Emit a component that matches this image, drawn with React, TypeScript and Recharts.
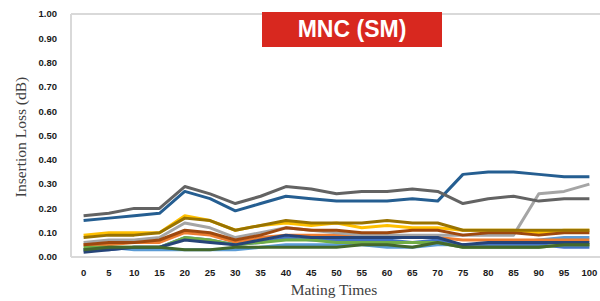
import React from "react";
import { LineChart, Line, XAxis, YAxis, ReferenceLine } from "recharts";

const matingTimes = [0, 5, 10, 15, 20, 25, 30, 35, 40, 45, 50, 55, 60, 65, 70, 75, 80, 85, 90, 95, 100];
const yTicks = [0, 0.1, 0.2, 0.3, 0.4, 0.5, 0.6, 0.7, 0.8, 0.9, 1.0];

const s1 = [0.03, 0.04, 0.03, 0.03, 0.03, 0.03, 0.03, 0.04, 0.05, 0.05, 0.05, 0.05, 0.04, 0.04, 0.05, 0.05, 0.05, 0.06, 0.07, 0.08, 0.08];
const s2 = [0.05, 0.05, 0.06, 0.06, 0.10, 0.09, 0.06, 0.08, 0.09, 0.09, 0.09, 0.09, 0.08, 0.08, 0.08, 0.07, 0.07, 0.07, 0.07, 0.07, 0.07];
const s3 = [0.06, 0.07, 0.07, 0.08, 0.14, 0.12, 0.08, 0.10, 0.12, 0.11, 0.10, 0.09, 0.09, 0.09, 0.09, 0.09, 0.09, 0.09, 0.26, 0.27, 0.30];
const s4 = [0.09, 0.10, 0.10, 0.10, 0.17, 0.15, 0.11, 0.13, 0.14, 0.13, 0.14, 0.12, 0.13, 0.12, 0.12, 0.11, 0.11, 0.11, 0.10, 0.11, 0.11];
const s5 = [0.03, 0.03, 0.04, 0.04, 0.08, 0.07, 0.05, 0.06, 0.08, 0.07, 0.07, 0.07, 0.07, 0.06, 0.07, 0.05, 0.05, 0.05, 0.05, 0.04, 0.04];
const s6 = [0.04, 0.04, 0.04, 0.04, 0.08, 0.07, 0.05, 0.06, 0.07, 0.07, 0.06, 0.06, 0.06, 0.06, 0.06, 0.04, 0.04, 0.04, 0.04, 0.05, 0.05];
const s7 = [0.15, 0.16, 0.17, 0.18, 0.27, 0.24, 0.19, 0.22, 0.25, 0.24, 0.23, 0.23, 0.23, 0.24, 0.23, 0.34, 0.35, 0.35, 0.34, 0.33, 0.33];
const s8 = [0.05, 0.06, 0.06, 0.07, 0.11, 0.10, 0.07, 0.09, 0.12, 0.11, 0.11, 0.10, 0.10, 0.11, 0.11, 0.09, 0.10, 0.10, 0.09, 0.10, 0.10];
const s9 = [0.17, 0.18, 0.20, 0.20, 0.29, 0.26, 0.22, 0.25, 0.29, 0.28, 0.26, 0.27, 0.27, 0.28, 0.27, 0.22, 0.24, 0.25, 0.23, 0.24, 0.24];
const s10 = [0.08, 0.09, 0.09, 0.10, 0.16, 0.15, 0.11, 0.13, 0.15, 0.14, 0.14, 0.14, 0.15, 0.14, 0.14, 0.11, 0.11, 0.11, 0.11, 0.11, 0.11];
const s11 = [0.02, 0.03, 0.04, 0.04, 0.07, 0.06, 0.05, 0.07, 0.09, 0.08, 0.08, 0.08, 0.08, 0.08, 0.08, 0.05, 0.06, 0.06, 0.06, 0.06, 0.06];
const s12 = [0.03, 0.04, 0.04, 0.04, 0.03, 0.03, 0.04, 0.04, 0.04, 0.04, 0.04, 0.05, 0.05, 0.04, 0.06, 0.04, 0.04, 0.04, 0.04, 0.05, 0.05];

const seriesList = [s1, s2, s3, s4, s5, s6, s7, s8, s9, s10, s11, s12];
const seriesColors = [
  "#5b9bd5", "#ed7d31", "#a5a5a5", "#ffc000", "#4472c4", "#70ad47",
  "#255e91", "#9e480e", "#636363", "#997300", "#264478", "#43682b",
];

const data = matingTimes.map((t, i) => {
  const row: Record<string, number | string> = { t: String(t) };
  seriesList.forEach((s, k) => {
    row["s" + (k + 1)] = s[i];
  });
  return row;
});

const tickStyle = { fontFamily: "'Liberation Sans', Arial, sans-serif", fontWeight: 700, fontSize: 9.5, fill: "#1a1a1a" };

export default function App() {
  return (
    <div style={{ position: "fixed", left: 0, top: 0, width: 600, height: 301, overflow: "hidden", background: "#fff" }}>
      <LineChart width={610} height={301} data={data} margin={{ top: 14, right: 8, left: 0, bottom: 0 }}>
        <XAxis
          dataKey="t"
          height={44}
          padding={{ left: 12.6, right: 12.6 }}
          tickLine={false}
          axisLine={{ stroke: "#d9d9d9", strokeWidth: 2 }}
          tick={tickStyle}
          tickMargin={6}
          interval={0}
        />
        <YAxis
          width={71}
          domain={[0, 1]}
          ticks={yTicks}
          tickFormatter={(v: number) => v.toFixed(2)}
          tickLine={false}
          axisLine={{ stroke: "#d9d9d9", strokeWidth: 2 }}
          tick={tickStyle}
          tickMargin={8}
          interval={0}
        />
        <ReferenceLine y={1} stroke="#d9d9d9" strokeWidth={2} />
        {seriesList.map((_, k) => (
          <Line
            key={k}
            type="linear"
            dataKey={"s" + (k + 1)}
            stroke={seriesColors[k]}
            strokeWidth={3}
            dot={false}
            activeDot={false}
            isAnimationActive={false}
            strokeLinejoin="round"
          />
        ))}
      </LineChart>
      <div
        style={{
          position: "absolute", left: 262, top: 12, width: 180, height: 35, background: "#d8281f",
          color: "#fff", fontFamily: "'Liberation Sans', Arial, sans-serif", fontWeight: 700, fontSize: 23,
          display: "flex", alignItems: "center", justifyContent: "center", lineHeight: 1,
        }}
      >
        MNC (SM)
      </div>
      <div
        style={{
          position: "absolute", left: 21 - 80, top: 137 - 10, width: 160, height: 20,
          transform: "rotate(-90deg)", textAlign: "center", lineHeight: "20px",
          fontFamily: "'Liberation Serif', 'Times New Roman', serif", fontSize: 15.5, color: "#404040",
        }}
      >
        Insertion Loss (dB)
      </div>
      <div
        style={{
          position: "absolute", left: 334 - 80, top: 290 - 10, width: 160, height: 20,
          textAlign: "center", lineHeight: "20px",
          fontFamily: "'Liberation Serif', 'Times New Roman', serif", fontSize: 15.5, color: "#404040",
        }}
      >
        Mating Times
      </div>
    </div>
  );
}
